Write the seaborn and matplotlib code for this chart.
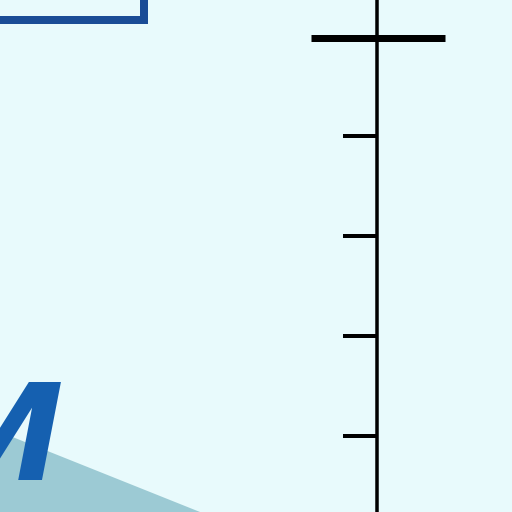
import numpy as np
import seaborn as sns
import matplotlib.pyplot as plt

# cropped diagram: vertical scale with ticks, corner of a box, letter and band
bg = '#e8fafc'
axis_x = 377
tick_rows = [136, 236, 336, 436]
cross_row = 38
cross_span = [311, 445]
tick_start = 343
box_x = [0, 144, 144]
box_y = [20, 20, -10]
band_x = [0, 215, 215, 0]
band_y = [432, 518, 600, 600]
letter = 'M'

sns.set_theme(style='white')
fig = plt.figure(figsize=(5.12, 5.12), dpi=100, facecolor=bg)
ax = fig.add_axes([0, 0, 1, 1])
ax.set_facecolor(bg)
ax.set_xlim(0, 512)
ax.set_ylim(512, 0)
ax.axis('off')

px = 0.72  # points per pixel at 100 dpi

ax.fill(band_x, band_y, color='#9ccad4', lw=0, zorder=1)
ax.text(63, 480, letter, ha='right', va='baseline', fontsize=96, color='#1560b0',
        style='italic', fontweight='bold', family='DejaVu Sans', zorder=2)

ax.plot(box_x, box_y, color='#1a4c96', lw=8 * px, solid_joinstyle='miter', zorder=2)

sns.lineplot(x=[axis_x, axis_x], y=[-5, 520], color='black', lw=3.5 * px,
             ax=ax, sort=False, estimator=None)
ax.plot(cross_span, [cross_row, cross_row], color='black', lw=7 * px,
        solid_capstyle='butt')
for r in tick_rows:
    ax.plot([tick_start, axis_x], [r, r], color='black', lw=4 * px,
            solid_capstyle='butt')

fig.savefig('out.png', dpi=100, facecolor=bg)
